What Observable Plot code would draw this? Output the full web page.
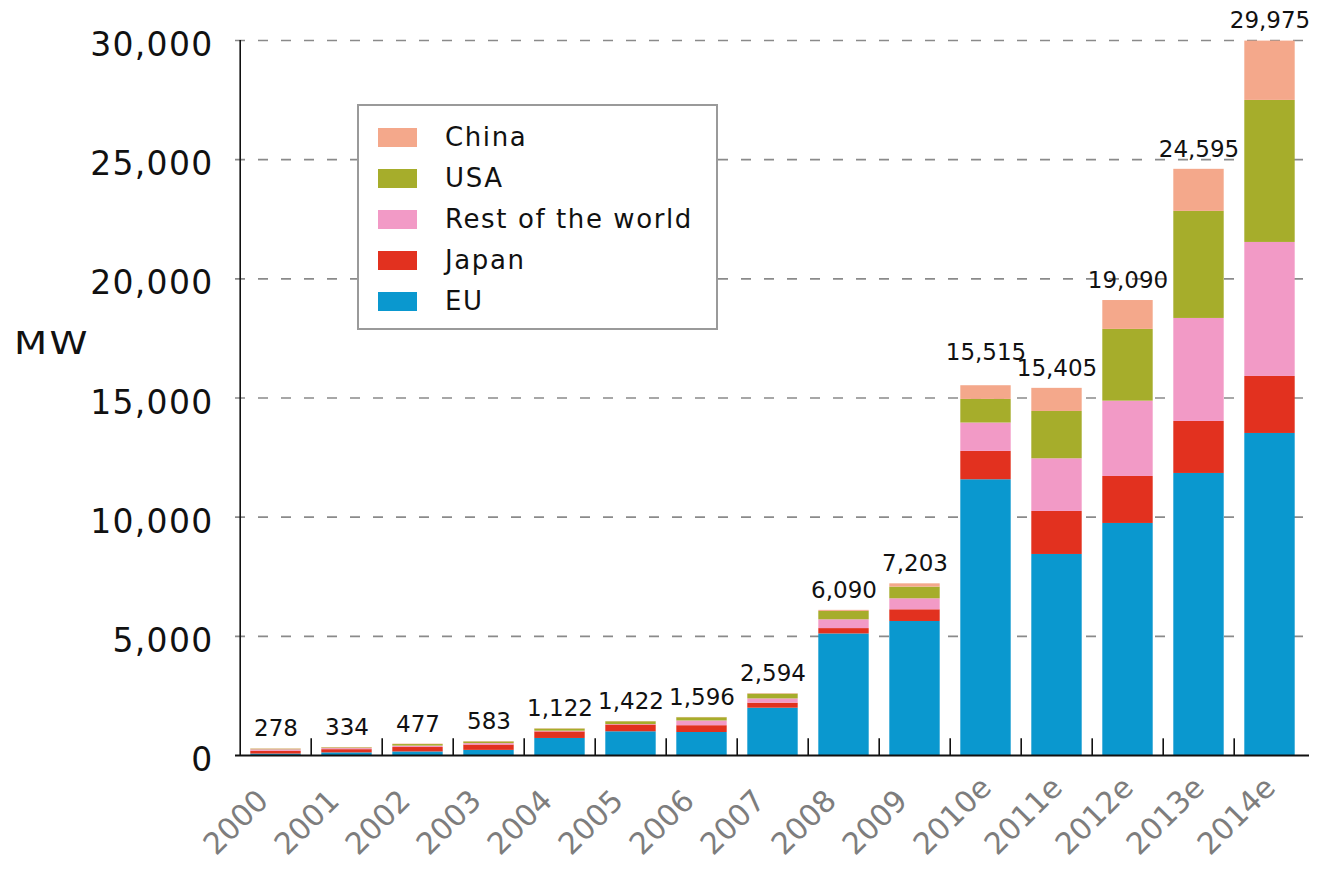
<!DOCTYPE html>
<html>
<head>
<meta charset="utf-8">
<script src="https://cdn.jsdelivr.net/npm/d3@7"></script>
<script src="https://cdn.jsdelivr.net/npm/@observablehq/plot@0.6"></script>
<style>
  html, body { margin: 0; padding: 0; background: #fff; overflow: hidden; }
  #wrap { position: relative; width: 1318px; height: 872px; font-family: "DejaVu Sans", sans-serif; }
  #wrap svg { display: block; color: #111; }
  #wrap svg [aria-label="y-axis tick label"] text { letter-spacing: 1.3px; }
  #legend { position: absolute; left: 357px; top: 104px; width: 357px; height: 222px;
            border: 2px solid #9a9a9a; background: #fff; box-sizing: content-box; }
  .lrow { position: absolute; left: 19px; height: 20px; display: flex; align-items: center; }
  .lsw { width: 39px; height: 19px; margin-right: 28px; flex: none; }
  .ltx { font-size: 26px; letter-spacing: 1.6px; color: #111; white-space: nowrap; line-height: 20px; }
  #mw { position: absolute; left: 14px; top: 324px; font-size: 32px; letter-spacing: 2px; color: #111;
        transform: scaleX(1.2); transform-origin: left center; }
</style>
</head>
<body>
<div id="wrap"><div id="mw">MW</div></div>
<script>
// ---- data ----
const years = ["2000","2001","2002","2003","2004","2005","2006","2007","2008","2009","2010e","2011e","2012e","2013e","2014e"];
const series = ["China","USA","Rest of the world","Japan","EU"];          // legend order (top to bottom)
const colors = ["#f4a88b","#a6ad2b","#f29ac6","#e2311f","#0a98cf"];
const eu    = [60, 110, 150, 215, 715, 995, 965, 1985, 5100, 5623, 11570, 8435, 9736, 11834, 13512];
const japan = [120, 135, 185, 225, 275, 285, 285, 210, 225, 491, 1190, 1805, 1972, 2182, 2392];
const rest  = [60, 45, 60, 60, 30, 20, 200, 180, 370, 462, 1190, 2210, 3160, 4322, 5623];
const usa   = [25, 30, 65, 70, 90, 115, 135, 200, 350, 487, 990, 1985, 3010, 4491, 5960];
const china = [13, 14, 17, 13, 12, 7, 11, 19, 45, 140, 575, 970, 1212, 1766, 2488];
const totals = [278, 334, 477, 583, 1122, 1422, 1596, 2594, 6090, 7203, 15515, 15405, 19090, 24595, 29975];
const yTicks = [0, 5000, 10000, 15000, 20000, 25000, 30000];

const stackOrder = ["EU","Japan","Rest of the world","USA","China"];
const seriesValues = {"China": china, "USA": usa, "Rest of the world": rest, "Japan": japan, "EU": eu};
const data = [];
years.forEach((y, i) => {
  stackOrder.forEach(s => data.push({year: y, series: s, value: seriesValues[s][i]}));
});
const totalRows = years.map((y, i) => ({year: y, total: totals[i]}));

const W = 1318, H = 872, mL = 235, mR = 9, mT = 40, mB = 117;
const step = (W - mL - mR) / years.length;
const barInset = (step - 51) / 2;

const chart = Plot.plot({
  width: W, height: H,
  marginLeft: mL, marginRight: mR, marginTop: mT, marginBottom: mB,
  x: {domain: years, padding: 0, axis: null},
  y: {domain: [0, 30000], axis: null},
  color: {domain: series, range: colors},
  style: {fontFamily: "DejaVu Sans, sans-serif", background: "white"},
  marks: [
    Plot.gridY(yTicks.filter(d => d > 0), {stroke: "#8a8a8a", strokeOpacity: 1, strokeWidth: 1.7, strokeDasharray: "10,13"}),
    Plot.barY(data, {x: "year", y: "value", fill: "series", order: stackOrder, insetLeft: barInset, insetRight: barInset}),
    Plot.ruleY([0], {stroke: "#111", strokeWidth: 2}),
    Plot.ruleX([years[0]], {x: d => d, y1: 0, y2: 30000, dx: -step / 2, stroke: "#111", strokeWidth: 1.6}),
    Plot.ruleX(years.slice(1), {x: d => d, y1: 0, y2: 700, dx: -step / 2, stroke: "#111", strokeWidth: 1.6}),
    Plot.axisY({ticks: yTicks, tickSize: 0, tickPadding: 22, tickFormat: d3.format(","), fontSize: 33, dy: 5}),
    Plot.text(totalRows.filter(d => d.year !== "2010e"), {x: "year", y: "total", text: d => d3.format(",")(d.total),
      lineAnchor: "middle", dy: -20, fontSize: 23, fill: "#111", letterSpacing: 0.5}),
    Plot.text(totalRows.filter(d => d.year === "2010e"), {x: "year", y: "total", text: d => d3.format(",")(d.total),
      lineAnchor: "middle", dy: -33, fontSize: 23, fill: "#111", letterSpacing: 0.5}),
    Plot.text(years, {x: d => d, y: 0, text: d => d, rotate: -45, textAnchor: "start", lineAnchor: "bottom",
      dx: -60, dy: 101, fontSize: 30, fill: "#7d7d7d", letterSpacing: 1})
  ]
});

const wrap = document.getElementById("wrap");
wrap.insertBefore(chart, wrap.firstChild);

// legend (inside plot area, as in the reference)
const legend = document.createElement("div");
legend.id = "legend";
series.forEach((s, i) => {
  const row = document.createElement("div");
  row.className = "lrow";
  row.style.top = (21 + i * 41) + "px";
  const sw = document.createElement("div");
  sw.className = "lsw";
  sw.style.background = colors[i];
  const tx = document.createElement("div");
  tx.className = "ltx";
  tx.textContent = s;
  row.appendChild(sw); row.appendChild(tx);
  legend.appendChild(row);
});
wrap.appendChild(legend);
</script>
</body>
</html>
